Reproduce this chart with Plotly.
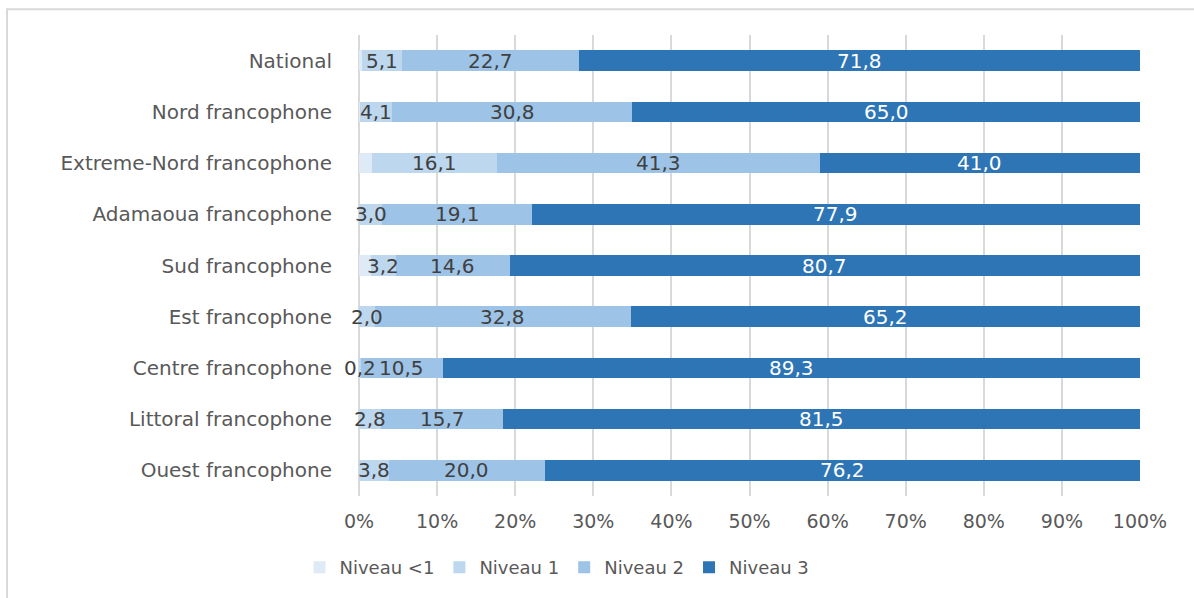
import plotly.graph_objects as go

# Regions (top to bottom) and share of pupils per level, in %
regions = [
    "National",
    "Nord francophone",
    "Extreme-Nord francophone",
    "Adamaoua francophone",
    "Sud francophone",
    "Est francophone",
    "Centre francophone",
    "Littoral francophone",
    "Ouest francophone",
]
niveau_inf1 = [0.4, 0.1, 1.6, 0.0, 1.5, 0.0, 0.0, 0.0, 0.0]
niveau_1 = [5.1, 4.1, 16.1, 3.0, 3.2, 2.0, 0.2, 2.8, 3.8]
niveau_2 = [22.7, 30.8, 41.3, 19.1, 14.6, 32.8, 10.5, 15.7, 20.0]
niveau_3 = [71.8, 65.0, 41.0, 77.9, 80.7, 65.2, 89.3, 81.5, 76.2]

tick_values = [0, 10, 20, 30, 40, 50, 60, 70, 80, 90, 100]
tick_labels = ["0%", "10%", "20%", "30%", "40%", "50%", "60%", "70%", "80%", "90%", "100%"]

# name, values, bar colour, label colour (None = no value labels)
series = [
    ("Niveau <1", niveau_inf1, "#DEEBF7", None),
    ("Niveau 1", niveau_1, "#BDD7EE", "#404040"),
    ("Niveau 2", niveau_2, "#9DC3E6", "#404040"),
    ("Niveau 3", niveau_3, "#2E75B6", "#FFFFFF"),
]

FONT = "DejaVu Sans"
W, H = 1194, 598
ML, MR, MT, MB = 359, 54, 35, 99

fig = go.Figure()
for name, vals, color, _ in series:
    fig.add_trace(go.Bar(
        name=name,
        y=regions,
        x=vals,
        orientation="h",
        marker=dict(color=color, line=dict(width=0)),
        hoverinfo="x+y+name",
    ))

# value labels centred on each segment, drawn above all bars
annotations = []
offsets = [0.0] * len(regions)
for name, vals, color, txtcolor in series:
    for i, v in enumerate(vals):
        if txtcolor is not None:
            annotations.append(dict(
                x=offsets[i] + v / 2, y=regions[i], xref="x", yref="y",
                text=f"{v:.1f}".replace(".", ","), showarrow=False,
                font=dict(family=FONT, size=20, color=txtcolor),
                xanchor="center", yanchor="middle",
            ))
        offsets[i] += v

# outer chart frame (left and top edges visible)
pw = W - ML - MR
ph = H - MT - MB
fig.add_shape(
    type="rect", xref="paper", yref="paper",
    x0=(7 - ML) / pw, x1=(W + 5 - ML) / pw,
    y0=-(H + 10 - MT - ph) / ph, y1=(H - MB - 9) / ph,
    line=dict(color="#D9D9D9", width=2), fillcolor="rgba(0,0,0,0)", layer="below",
)

fig.update_layout(
    barmode="stack",
    bargap=0.6,
    width=W, height=H,
    margin=dict(l=ML, r=MR, t=MT, b=MB, pad=0),
    plot_bgcolor="white",
    paper_bgcolor="white",
    font=dict(family=FONT, color="#595959", size=19),
    annotations=annotations,
    showlegend=True,
    legend=dict(
        orientation="h",
        x=(557 - ML) / pw, xanchor="center",
        y=-(571 - (H - MB)) / ph, yanchor="middle",
        font=dict(family=FONT, size=18, color="#595959"),
        traceorder="normal",
        itemclick=False,
    ),
    xaxis=dict(
        range=[0, 100],
        tickmode="array",
        tickvals=tick_values,
        ticktext=tick_labels,
        showgrid=True,
        gridcolor="#D9D9D9",
        gridwidth=2,
        zeroline=True,
        zerolinecolor="#D9D9D9",
        zerolinewidth=2,
        showline=False,
        ticks="",
        ticklabelstandoff=12,
        tickfont=dict(family=FONT, size=19, color="#595959"),
        fixedrange=True,
    ),
    yaxis=dict(
        categoryorder="array",
        categoryarray=regions,
        autorange="reversed",
        showgrid=False,
        zeroline=False,
        showline=False,
        ticks="",
        ticklabelstandoff=26,
        tickfont=dict(family=FONT, size=20, color="#595959"),
        fixedrange=True,
    ),
)

fig.write_html("out.html")
